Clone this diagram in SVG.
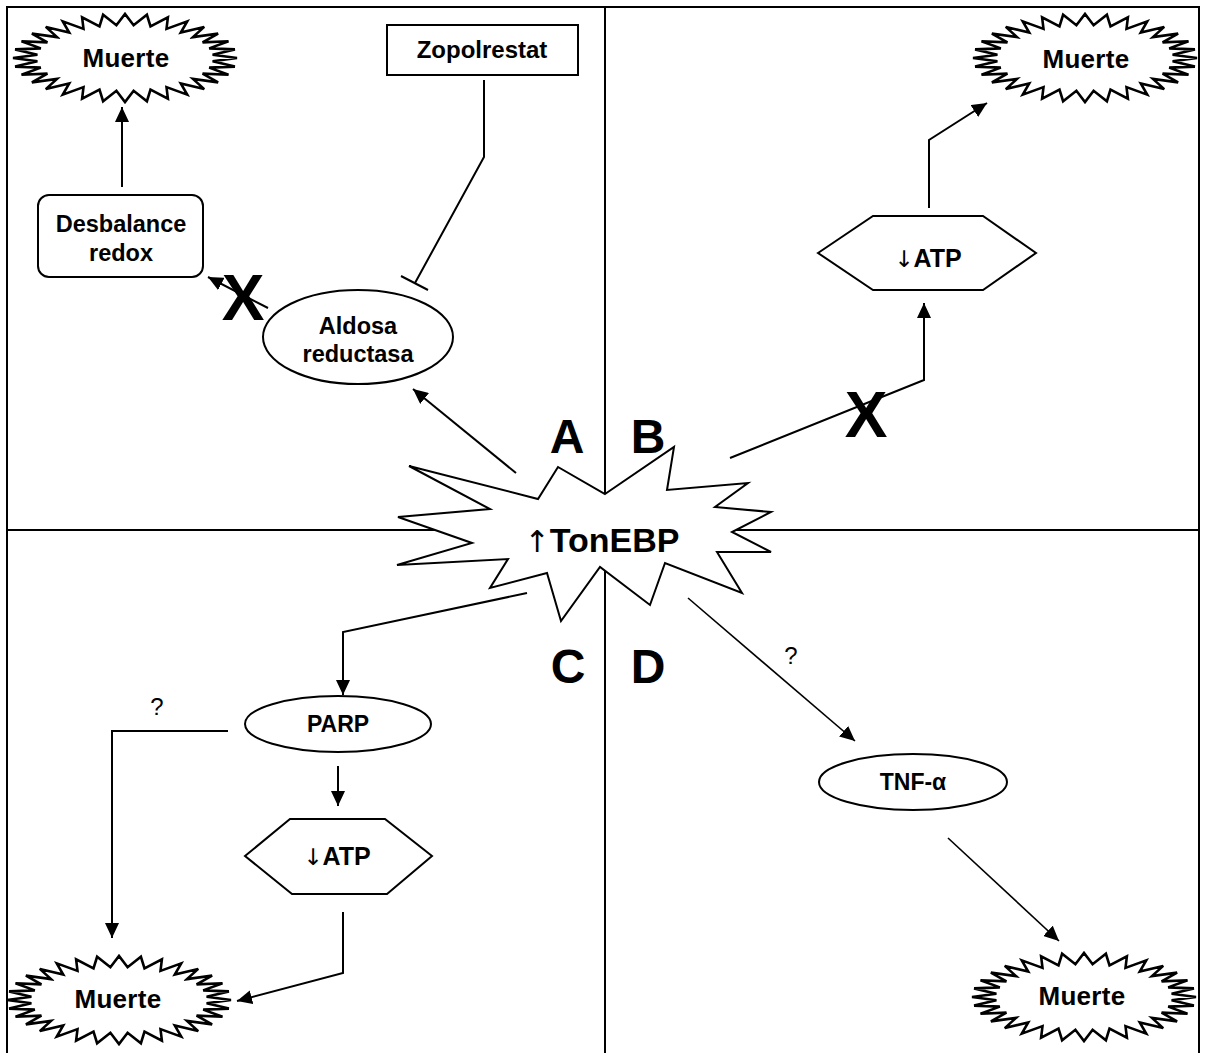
<svg xmlns="http://www.w3.org/2000/svg" width="1206" height="1053" viewBox="0 0 1206 1053">
  <style>
    .frame { stroke: #000; stroke-width: 2; fill: none; }
    .shape { fill: #fff; stroke: #000; stroke-width: 2; }
    .burst { fill: #fff; stroke: #000; stroke-width: 2.6; stroke-linejoin: miter; stroke-miterlimit: 4; }
    .lbl { font-family: "Liberation Sans", Arial, sans-serif; font-weight: bold; fill: #000; text-anchor: middle; }
    .plain { font-family: "Liberation Sans", Arial, sans-serif; font-weight: normal; fill: #000; text-anchor: middle; }
    .arw { font-family: "DejaVu Sans", sans-serif; font-weight: normal; fill: #000; }
    .conn { fill: none; stroke: #000; stroke-width: 2; }
    .thin { fill: none; stroke: #000; stroke-width: 1.6; }
  </style>
  <defs>
    <marker id="head" markerUnits="userSpaceOnUse" markerWidth="15" markerHeight="14" refX="15" refY="7" orient="auto">
      <path d="M0,0 L15,7 L0,14 z" fill="#000"/>
    </marker>
    <!-- jagged oval used for the "Muerte" outcomes -->
    <polygon id="seal" points="112,0 87.6,3.2 109.9,8.6 84.2,9.6 103.5,16.8 77.6,15.6 93.1,24.4 68,20.9 79.2,31.1 55.8,25.5 62.2,36.6 41.5,29.1 42.9,40.7 25.5,31.6 21.9,43.2 8.6,32.8 0,44 -8.6,32.8 -21.9,43.2 -25.5,31.6 -42.9,40.7 -41.5,29.1 -62.2,36.6 -55.8,25.5 -79.2,31.1 -68,20.9 -93.1,24.4 -77.6,15.6 -103.5,16.8 -84.2,9.6 -109.9,8.6 -87.6,3.2 -112,0 -87.6,-3.2 -109.9,-8.6 -84.2,-9.6 -103.5,-16.8 -77.6,-15.6 -93.1,-24.4 -68,-20.9 -79.2,-31.1 -55.8,-25.5 -62.2,-36.6 -41.5,-29.1 -42.9,-40.7 -25.5,-31.6 -21.9,-43.2 -8.6,-32.8 0,-44 8.6,-32.8 21.9,-43.2 25.5,-31.6 42.9,-40.7 41.5,-29.1 62.2,-36.6 55.8,-25.5 79.2,-31.1 68,-20.9 93.1,-24.4 77.6,-15.6 103.5,-16.8 84.2,-9.6 109.9,-8.6 87.6,-3.2"/>
  </defs>

  <!-- panel frame and quadrant dividers -->
  <g id="frame">
    <line class="frame" x1="7" y1="7" x2="1199" y2="7"/>
    <line class="frame" x1="7" y1="6" x2="7" y2="1053"/>
    <line class="frame" x1="1199" y1="6" x2="1199" y2="1053"/>
    <line class="frame" x1="7" y1="530" x2="1199" y2="530"/>
    <line class="frame" x1="605" y1="7" x2="605" y2="1053"/>
  </g>

  <!-- connectors -->
  <g id="connectors">
    <!-- A: TonEBP -> aldosa reductasa -> desbalance redox -> muerte -->
    <line class="conn" x1="516" y1="473" x2="413" y2="389" marker-end="url(#head)"/>
    <line class="conn" x1="268" y1="308" x2="208" y2="277" marker-end="url(#head)"/>
    <line class="conn" x1="122" y1="187" x2="122" y2="107" marker-end="url(#head)"/>
    <!-- zopolrestat inhibition -->
    <polyline class="conn" points="484,80 484,157 415,283"/>
    <line class="conn" x1="401" y1="276" x2="428" y2="290"/>
    <!-- B: TonEBP -> ATP -> muerte -->
    <polyline class="conn" points="730,458 924,380 924,303" marker-end="url(#head)"/>
    <polyline class="conn" points="929,208 929,140 987,103" marker-end="url(#head)"/>
    <!-- C: TonEBP -> PARP -> ATP -> muerte -->
    <polyline class="conn" points="527,593 343,632 343,695" marker-end="url(#head)"/>
    <line class="conn" x1="338" y1="766" x2="338" y2="806" marker-end="url(#head)"/>
    <polyline class="conn" points="228,731 112,731 112,938" marker-end="url(#head)"/>
    <polyline class="conn" points="343,912 343,973 237,1001" marker-end="url(#head)"/>
    <!-- D: TonEBP -> TNF-alpha -> muerte -->
    <line class="thin" x1="688" y1="598" x2="855" y2="741" marker-end="url(#head)"/>
    <line class="thin" x1="948" y1="838" x2="1059" y2="941" marker-end="url(#head)"/>
  </g>

  <!-- blocked pathways -->
  <g id="blocks">
    <text class="lbl" x="243" y="320" font-size="64">X</text>
    <text class="lbl" x="866" y="437" font-size="64">X</text>
  </g>

  <!-- question marks -->
  <g id="unknowns">
    <text class="plain" x="157" y="715" font-size="24">?</text>
    <text class="plain" x="791" y="664" font-size="24">?</text>
  </g>

  <!-- central node -->
  <g id="tonebp">
    <polygon class="shape" points="605,494 674,447 667,490 748,483 715,507 771,512 732,532 771,552 717,552 742,593 665,563 650,605 600,567 561,621 547,573 490,588 508,559 397,565 472,543 398,517 490,509 409,466 538,499 558,467"/>
    <text class="lbl" x="602" y="552" font-size="34"><tspan class="arw" font-size="30">↑</tspan>TonEBP</text>
  </g>

  <!-- quadrant letters -->
  <g id="quadrant-labels">
    <text class="lbl" x="567" y="453" font-size="48">A</text>
    <text class="lbl" x="648" y="453" font-size="48">B</text>
    <text class="lbl" x="568" y="683" font-size="48">C</text>
    <text class="lbl" x="648" y="683" font-size="48">D</text>
  </g>

  <!-- quadrant A -->
  <g id="muerte-a">
    <use href="#seal" class="burst" transform="translate(125,58)"/>
    <text class="lbl" x="126" y="67" font-size="26" letter-spacing="0.3">Muerte</text>
  </g>
  <g id="zopolrestat">
    <rect class="shape" x="387" y="25" width="191" height="50"/>
    <text class="lbl" x="482" y="58" font-size="24">Zopolrestat</text>
  </g>
  <g id="desbalance-redox">
    <rect class="shape" x="38" y="195" width="165" height="82" rx="11" ry="11"/>
    <text class="lbl" x="121" y="232" font-size="23.5">Desbalance</text>
    <text class="lbl" x="121" y="261" font-size="23.5">redox</text>
  </g>
  <g id="aldosa-reductasa">
    <ellipse class="shape" cx="358" cy="337" rx="95" ry="47"/>
    <text class="lbl" x="358" y="334" font-size="23.5">Aldosa</text>
    <text class="lbl" x="358" y="362" font-size="23.5">reductasa</text>
  </g>

  <!-- quadrant B -->
  <g id="atp-b">
    <polygon class="shape" points="818,253 873,216 983,216 1036,253 983,290 873,290"/>
    <text class="lbl" x="928" y="267" font-size="25"><tspan class="arw" font-size="23">↓</tspan>ATP</text>
  </g>
  <g id="muerte-b">
    <use href="#seal" class="burst" transform="translate(1085,58)"/>
    <text class="lbl" x="1086" y="68" font-size="26" letter-spacing="0.3">Muerte</text>
  </g>

  <!-- quadrant C -->
  <g id="parp">
    <ellipse class="shape" cx="338" cy="724" rx="93" ry="28"/>
    <text class="lbl" x="338" y="732" font-size="23">PARP</text>
  </g>
  <g id="atp-c">
    <polygon class="shape" points="245,856 290,819 385,819 432,856 387,894 292,894"/>
    <text class="lbl" x="337" y="865" font-size="25"><tspan class="arw" font-size="23">↓</tspan>ATP</text>
  </g>
  <g id="muerte-c">
    <use href="#seal" class="burst" transform="translate(119,1000)"/>
    <text class="lbl" x="118" y="1008" font-size="26" letter-spacing="0.3">Muerte</text>
  </g>

  <!-- quadrant D -->
  <g id="tnf-alpha">
    <ellipse class="shape" cx="913" cy="782" rx="94" ry="28"/>
    <text class="lbl" x="913" y="790" font-size="23">TNF-α</text>
  </g>
  <g id="muerte-d">
    <use href="#seal" class="burst" transform="translate(1084,997)"/>
    <text class="lbl" x="1082" y="1005" font-size="26" letter-spacing="0.3">Muerte</text>
  </g>
</svg>
